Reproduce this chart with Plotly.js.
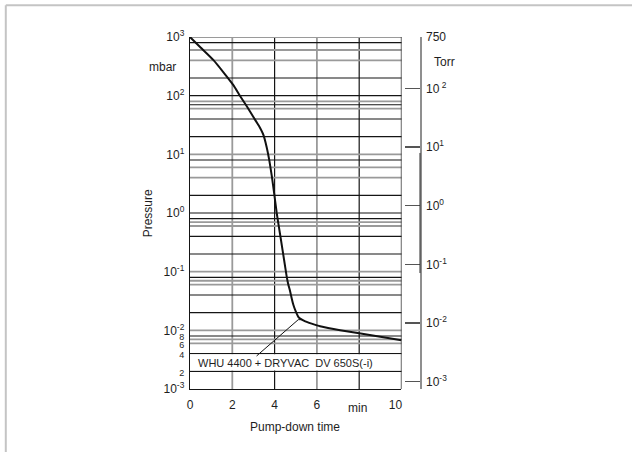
<!DOCTYPE html>
<html>
<head>
<meta charset="utf-8">
<script src="https://cdn.plot.ly/plotly-3.0.1.min.js"></script>
<style>html,body{margin:0;padding:0;background:#fff;}#chart{width:632px;height:452px;}</style>
</head>
<body>
<div id="chart"></div>
<script>
// ---- data ----
var timeMin = [0, 0.5, 1.1, 1.6, 2.05, 2.36, 2.7, 2.99, 3.25, 3.47, 3.62, 3.75, 3.87, 3.97, 4.1, 4.3, 4.45, 4.57, 4.65, 4.73, 4.81, 4.89, 5.0, 5.12, 5.25, 5.45, 5.75, 6.15, 7.1, 8.0, 9.0, 10];
var pressureMbar = [1000, 661, 407, 245, 151, 100, 64.6, 43.6, 30.9, 21.4, 13.5, 7.9, 4.2, 2.3, 1.0, 0.35, 0.158, 0.083, 0.060, 0.047, 0.035, 0.027, 0.021, 0.017, 0.0155, 0.0142, 0.013, 0.0117, 0.0100, 0.0089, 0.0078, 0.0068];

var leaderX = [3.15, 5.12, 5.28];
var leaderY = [0.00366, 0.0152, 0.0152];
var seriesLabel = "WHU 4400 + DRYVAC\u00a0\u00a0DV 650S(-i)";
var labelPos = {x: 0.3, y: 0.0028};

var xTickVals = [0, 2, 4, 6, 10];
var xTickText = ["0", "2", "4", "6", "10\u2002\u2002"];
var yTickVals = [1000, 100, 10, 1, 0.1, 0.01, 0.001, 0.008, 0.006, 0.004, 0.002];
var yTickText = ["10<sup>3</sup>", "10<sup>2</sup>", "10<sup>1</sup>", "10<sup>0</sup>", "10<sup>-1</sup>", "10<sup>-2</sup>", "10<sup>-3</sup>",
  "<span style='font-size:9px'>8</span>", "<span style='font-size:9px'>6</span>", "<span style='font-size:9px'>4</span>", "<span style='font-size:9px'>2</span>"];
var torrTickVals = [750, 100, 10, 1, 0.1, 0.01, 0.001, 0.00075];
var torrTickText = ["750", "10<sup> 2</sup>", "10<sup>1</sup>", "10<sup>0</sup>", "10<sup>-1</sup>", "10<sup>-2</sup>", "10<sup>-3</sup>", ""];
var torrRange = [0.00075, 750];

var gridXBlack = [4, 8];
var gridXGray = [2, 6];
var gridYBlack = [800, 200, 100, 70, 40, 20, 8, 2, 1, 0.8, 0.4, 0.2, 0.08, 0.04, 0.02, 0.008, 0.004, 0.002];
var gridYGray = [1000, 600, 400, 80, 60, 10, 6, 4, 0.7, 0.6, 0.1, 0.07, 0.06, 0.01, 0.007, 0.006];
var labelBox = {x0: 0, x1: 10, y0: 0.00206, y1: 0.00392};
var xRange = [0, 10];
var yRangeLog = [-3, 3];

// ---- styles ----
var BLACK = '#151515', GRAY = '#9a9a9a', TXT = '#1e1e1e';
var FONT = 'Liberation Sans, Arial, sans-serif';

var shapes = [];
gridXGray.forEach(function(v){ shapes.push({type:'line', xref:'x', yref:'paper', x0:v, x1:v, y0:0, y1:1, layer:'below', line:{color:GRAY, width:1.8}}); });
gridXBlack.forEach(function(v){ shapes.push({type:'line', xref:'x', yref:'paper', x0:v, x1:v, y0:0, y1:1, layer:'below', line:{color:BLACK, width:1.2}}); });
gridYGray.forEach(function(v){ shapes.push({type:'line', xref:'paper', yref:'y', x0:0, x1:0.6184, y0:v, y1:v, layer:'below', line:{color:GRAY, width:1.8}}); });
gridYBlack.forEach(function(v){ shapes.push({type:'line', xref:'paper', yref:'y', x0:0, x1:0.6184, y0:v, y1:v, layer:'below', line:{color:BLACK, width:1.2}}); });
shapes.push({type:'rect', xref:'x', yref:'y', x0:labelBox.x0, x1:labelBox.x1, y0:labelBox.y0, y1:labelBox.y1, layer:'below', fillcolor:'#ffffff', line:{width:0}});
shapes.push({type:'line', xref:'x', yref:'paper', x0:xRange[1], x1:xRange[1], y0:0, y1:1, layer:'above', line:{color:BLACK, width:1.3}});
// darker stretch on the Torr scale line
shapes.push({type:'line', xref:'paper', yref:'paper', x0:0.6725, x1:0.6725, y0:0.3295, y1:0.6705, layer:'above', line:{color:'#333', width:1}});
// page frame (left and top)
shapes.push({type:'line', xref:'paper', yref:'paper', x0:-0.5386, x1:-0.5386, y0:-0.2, y1:1.0903, line:{color:'#c4c4c4', width:2}});
shapes.push({type:'line', xref:'paper', yref:'paper', x0:-0.5386, x1:1.3, y0:1.0903, y1:1.0903, line:{color:'#c4c4c4', width:2}});

var traces = [
  {x: timeMin, y: pressureMbar, type:'scatter', mode:'lines', line:{color:'#111', width:2, shape:'spline', smoothing:0.3}, hoverinfo:'skip', showlegend:false},
  {x: leaderX, y: leaderY, type:'scatter', mode:'lines', line:{color:'#111', width:1}, hoverinfo:'skip', showlegend:false},
  {x: [5], y: [1], yaxis:'y2', type:'scatter', mode:'markers', marker:{opacity:0}, hoverinfo:'skip', showlegend:false}
];

var layout = {
  width: 632, height: 452,
  margin: {l:190, r:100, t:37, b:63, pad:0},
  paper_bgcolor:'#fff', plot_bgcolor:'rgba(0,0,0,0)',
  font: {family: FONT, size: 12, color: TXT},
  showlegend: false,
  xaxis: {domain:[0, 0.6184], range: xRange, fixedrange:true, showgrid:false, zeroline:false,
          showline:true, linecolor:BLACK, linewidth:1.3, ticks:'', tickmode:'array', tickvals:xTickVals, ticktext:xTickText,
          ticklabelstandoff:4, tickfont:{size:12, color:TXT}},
  yaxis: {type:'log', range: yRangeLog, fixedrange:true, showgrid:false, zeroline:false,
          showline:true, linecolor:BLACK, linewidth:1.3, ticks:'', tickmode:'array', tickvals:yTickVals, ticktext:yTickText,
          ticklabelstandoff:2, tickfont:{size:12, color:TXT}},
  yaxis2: {type:'log', overlaying:'y', side:'right', anchor:'free', position:0.6725,
           range:[Math.log10(torrRange[0]), Math.log10(torrRange[1])], fixedrange:true, showgrid:false, zeroline:false,
           showline:true, linecolor:'#8f8f8f', linewidth:1.6, ticks:'inside', ticklen:15, tickwidth:1.4, tickcolor:'#555',
           tickmode:'array', tickvals:torrTickVals, ticktext:torrTickText, ticklabelstandoff:2, tickfont:{size:12, color:TXT}},
  shapes: shapes,
  annotations: [
    {xref:'paper', yref:'paper', x:-0.0804, y:0.9156, text:'mbar', showarrow:false, font:{size:12, color:TXT}, xanchor:'center', yanchor:'middle'},
    {xref:'paper', yref:'paper', x:0.7427, y:0.9298, text:'Torr', showarrow:false, font:{size:12, color:TXT}, xanchor:'center', yanchor:'middle'},
    {xref:'paper', yref:'paper', x:0.4912, y:-0.054, text:'min', showarrow:false, font:{size:12, color:TXT}, xanchor:'center', yanchor:'middle'},
    {xref:'paper', yref:'paper', x:0.307, y:-0.107, text:'Pump-down time', showarrow:false, font:{size:12, color:TXT}, xanchor:'center', yanchor:'middle'},
    {xref:'paper', yref:'paper', x:-0.1228, y:0.499, text:'Pressure', textangle:-90, showarrow:false, font:{size:12, color:TXT}, xanchor:'center', yanchor:'middle'},
    {xref:'x', yref:'y', x:labelPos.x, y:Math.log10(labelPos.y), text:seriesLabel, showarrow:false, font:{size:11, color:TXT}, xanchor:'left', yanchor:'middle'}
  ]
};

Plotly.newPlot('chart', traces, layout, {staticPlot:true, displayModeBar:false});
</script>
</body>
</html>
